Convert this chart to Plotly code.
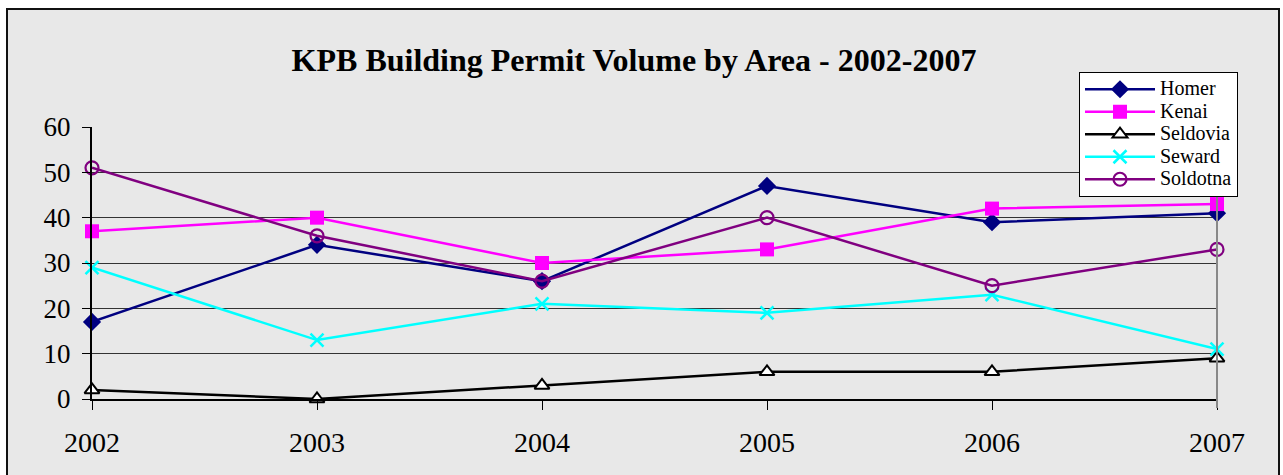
import plotly.graph_objects as go

years = ["2002", "2003", "2004", "2005", "2006", "2007"]
homer = [17, 34, 26, 47, 39, 41]
kenai = [37, 40, 30, 33, 42, 43]
seldovia = [2, 0, 3, 6, 6, 9]
seward = [29, 13, 21, 19, 23, 11]
soldotna = [51, 36, 26, 40, 25, 33]

W, H = 1283, 475
L, R, T, B = 92, 1217, 127, 399
SERIF = "Liberation Serif, Times New Roman, serif"

def px(xp):
    return (xp - L) / (R - L)

def py(yp):
    return (B - yp) / (B - T)

def lname(s):
    return '<span style="font-size:20px">' + s + '</span>'

fig = go.Figure()
fig.add_trace(go.Scatter(x=years, y=homer, name=lname("Homer"), mode="lines+markers",
                         line=dict(color="#000080", width=2.5),
                         marker=dict(symbol="diamond", size=14, color="#000080"),
                         cliponaxis=False))
fig.add_trace(go.Scatter(x=years, y=kenai, name=lname("Kenai"), mode="lines+markers",
                         line=dict(color="#FF00FF", width=2.5),
                         marker=dict(symbol="square", size=14, color="#FF00FF"),
                         cliponaxis=False))
fig.add_trace(go.Scatter(x=years, y=seldovia, name=lname("Seldovia"), mode="lines+markers",
                         line=dict(color="#000000", width=2.5),
                         marker=dict(symbol="triangle-up", size=13, color="white",
                                     line=dict(color="#000000", width=2)),
                         cliponaxis=False))
fig.add_trace(go.Scatter(x=years, y=seward, name=lname("Seward"), mode="lines+markers",
                         line=dict(color="#00FFFF", width=2.5),
                         marker=dict(symbol="x-thin", size=13,
                                     line=dict(color="#00FFFF", width=2.5)),
                         cliponaxis=False))
fig.add_trace(go.Scatter(x=years, y=soldotna, name=lname("Soldotna"), mode="lines+markers",
                         line=dict(color="#800080", width=2.5),
                         marker=dict(symbol="circle-open", size=13,
                                     line=dict(color="#800080", width=2.2)),
                         cliponaxis=False))

shapes = [
    dict(type="rect", xref="paper", yref="paper", layer="below",
         x0=px(7), x1=px(1279), y0=py(490), y1=py(9),
         fillcolor="#E8E8E8", line=dict(color="#111111", width=2)),
    dict(type="line", xref="paper", yref="paper", layer="above",
         x0=1, x1=1, y0=py(408), y1=1, line=dict(color="#888888", width=2)),
]

fig.update_layout(
    width=W, height=H,
    margin=dict(l=L, r=W - R, t=T, b=H - B, pad=0),
    paper_bgcolor="white",
    plot_bgcolor="white",
    font=dict(family=SERIF, color="black"),
    title=dict(text="<b>KPB Building Permit Volume by Area - 2002-2007</b>",
               font=dict(size=32, family=SERIF, color="black"),
               x=634 / W, xanchor="center", xref="container",
               y=1 - 60 / H, yanchor="middle", yref="container"),
    showlegend=True,
    legend=dict(x=px(1079), y=py(72), xanchor="left", yanchor="top",
                bgcolor="white", bordercolor="black", borderwidth=1,
                font=dict(size=15, family=SERIF, color="black"),
                tracegroupgap=0, itemwidth=70),
    shapes=shapes,
)
fig.update_xaxes(type="category", range=[0, 5], showgrid=False,
                 showline=True, linecolor="black", linewidth=2,
                 ticks="outside", ticklen=9, tickcolor="black", tickwidth=1,
                 tickfont=dict(size=28, family=SERIF, color="black"),
                 ticklabelstandoff=8, zeroline=False, fixedrange=True)
fig.update_yaxes(range=[0, 60], dtick=10, showgrid=True, gridcolor="#333333",
                 gridwidth=1, showline=True, linecolor="black", linewidth=2,
                 ticks="outside", ticklen=8, tickcolor="black", tickwidth=1,
                 tickfont=dict(size=27, family=SERIF, color="black"),
                 ticklabelstandoff=6, zeroline=False, fixedrange=True)

fig.write_html("out.html", config={"displayModeBar": False},
               post_script="document.body.style.margin='0px';")
